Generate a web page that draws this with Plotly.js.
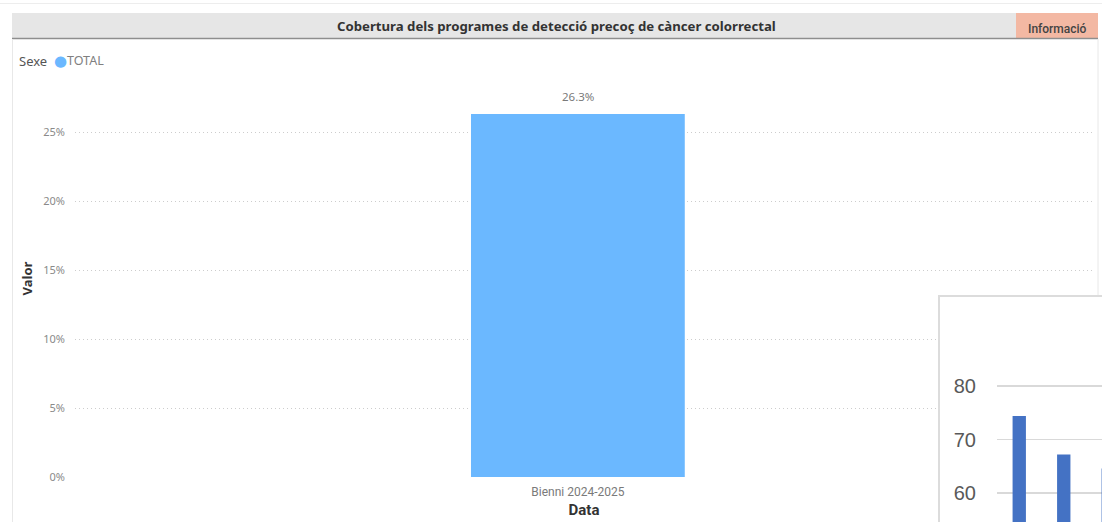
<!DOCTYPE html>
<html>
<head>
<meta charset="utf-8">
<script src="https://cdn.plot.ly/plotly-3.0.1.min.js"></script>
<style>
  html, body { margin: 0; padding: 0; width: 1102px; height: 522px; overflow: hidden; background: #fff; }
  #main { position: absolute; left: 0; top: 0; width: 1102px; height: 522px; }
  #inset { position: absolute; left: 938px; top: 295px; width: 300px; height: 227px;
           border-left: 2px solid #dcdcdc; border-top: 2px solid #dcdcdc; background: #fff; overflow: hidden; }
  #insetPlot { position: absolute; left: 0; top: 0; width: 300px; height: 225px; }
</style>
</head>
<body>
<div id="main"></div>
<div id="inset"><div id="insetPlot"></div></div>
<script>
// ---- data ----
const chartTitle = "Cobertura dels programes de detecció precoç de càncer colorrectal";
const infoLabel = "Informació";
const legendTitle = "Sexe";
const seriesName = "TOTAL";
const categories = ["Bienni 2024-2025"];
const values = [0.263];
const yTickVals = [0, 0.05, 0.10, 0.15, 0.20, 0.25];
const yTickText = ["0%", "5%", "10%", "15%", "20%", "25%"];
const xTitle = "Data";
const yTitle = "Valor";

// overlapping inset chart (partly visible)
const insetCategories = ["c1", "c2", "c3"];
const insetValues = [74.4, 67.2, 64.6];
const insetTickVals = [60, 70, 80];

// ---- helpers ----
const W = 1102, H = 522;
const px = x => x / W;
const py = y => (H - y) / H;
const barColor = "#6bb8ff";

const main = [{
  type: "bar",
  x: categories,
  y: values,
  name: seriesName,
  marker: { color: barColor },
  width: 0.21,
  hoverinfo: "skip"
}];

const labelAnnotations = categories.map((c, i) => ({
  x: c, y: values[i], xref: "x", yref: "y",
  text: (values[i] * 100).toFixed(1) + "%",
  showarrow: false, yanchor: "bottom", yshift: 8,
  font: { family: "Noto Sans, Open Sans, sans-serif", size: 11.5, color: "#7a7a7a" }
}));

const layout = {
  width: W, height: H,
  margin: { l: 0, r: 0, t: 0, b: 0 },
  paper_bgcolor: "#fff",
  plot_bgcolor: "rgba(0,0,0,0)",
  showlegend: false,
  xaxis: {
    domain: [px(75), px(1093)],
    range: [-0.494, 0.506],
    showgrid: false, zeroline: false, showline: false,
    ticks: "", ticklabelstandoff: 6,
    tickfont: { family: "Roboto, sans-serif", size: 12, color: "#7a7a7a" },
    title: { text: xTitle, standoff: 6, font: { family: "Roboto, sans-serif", size: 15, color: "#333", weight: "bold" } }
  },
  yaxis: {
    domain: [py(477), py(80)],
    range: [0, (477 - 80) / 1380],
    tickvals: yTickVals, ticktext: yTickText,
    showgrid: true, gridcolor: "#cdcdcd", griddash: "1px,3px", gridwidth: 1,
    zeroline: false, showline: false, ticks: "",
    ticklabelstandoff: 9,
    tickfont: { family: "Noto Sans, Open Sans, sans-serif", size: 11, color: "#8a8a8a" },
    title: { text: yTitle, standoff: 7, font: { family: "Noto Sans, Open Sans, sans-serif", size: 13, color: "#333", weight: "bold" } }
  },
  shapes: [
    { type: "line", xref: "paper", yref: "paper", x0: 0, x1: 1, y0: py(3.5), y1: py(3.5), line: { color: "#ededed", width: 1 }, layer: "below" },
    { type: "rect", xref: "paper", yref: "paper", x0: px(12), x1: px(1098), y0: py(38), y1: py(13), fillcolor: "#e6e6e6", line: { width: 0 }, layer: "below" },
    { type: "rect", xref: "paper", yref: "paper", x0: px(1016), x1: px(1098), y0: py(38), y1: py(13), fillcolor: "#f3b8a3", line: { width: 0 }, layer: "below" },
    { type: "line", xref: "paper", yref: "paper", x0: px(12), x1: px(1098), y0: py(38.5), y1: py(38.5), line: { color: "#8e8e8e", width: 1.5 }, layer: "below" },
    { type: "line", xref: "paper", yref: "paper", x0: px(12.5), x1: px(12.5), y0: py(39), y1: 0, line: { color: "#e8e8e8", width: 1 }, layer: "below" },
    { type: "line", xref: "paper", yref: "paper", x0: px(1098), x1: px(1098), y0: py(39), y1: 0, line: { color: "#e8e8e8", width: 1 }, layer: "below" }
  ],
  annotations: [
    { xref: "paper", yref: "paper", x: px(556), y: py(26), text: "<b>" + chartTitle + "</b>", showarrow: false,
      xanchor: "center", yanchor: "middle", font: { family: "Noto Sans, Open Sans, sans-serif", size: 13.2, color: "#333" } },
    { xref: "paper", yref: "paper", x: px(1057), y: py(29), text: infoLabel, showarrow: false,
      xanchor: "center", yanchor: "middle", font: { family: "Roboto, sans-serif", size: 12, color: "#444", weight: 500 } },
    { xref: "paper", yref: "paper", x: px(17), y: py(61), xanchor: "left", yanchor: "middle", showarrow: false,
      text: legendTitle, font: { family: "Noto Sans, Open Sans, sans-serif", size: 13, color: "#555" } },
    { xref: "paper", yref: "paper", x: px(52), y: py(61), xanchor: "left", yanchor: "middle", showarrow: false,
      text: '<span style="color:' + barColor + '">●</span>', font: { family: "DejaVu Sans, sans-serif", size: 15, color: barColor } },
    { xref: "paper", yref: "paper", x: px(65), y: py(61), xanchor: "left", yanchor: "middle", showarrow: false,
      text: seriesName, font: { family: "Noto Sans, Open Sans, sans-serif", size: 12.5, color: "#808080" } }
  ].concat(labelAnnotations)
};

Plotly.newPlot("main", main, layout, { staticPlot: true, displayModeBar: false });

// ---- inset chart ----
const inset = [{
  type: "bar",
  x: insetCategories,
  y: insetValues,
  marker: { color: "#4472c4" },
  width: 0.3,
  hoverinfo: "skip"
}];
const insetH = 225;
const insetLayout = {
  width: 300, height: insetH,
  margin: { l: 57, r: 0, t: 0, b: 0 },
  paper_bgcolor: "#fff", plot_bgcolor: "#fff",
  showlegend: false,
  xaxis: { range: [-0.5, (300 - 57) / 44.5 - 0.5], showticklabels: false, showgrid: false, zeroline: false, ticks: "" },
  yaxis: {
    range: [80 - (insetH - 89) / 5.35, 80 + 89 / 5.35],
    tickvals: insetTickVals,
    showgrid: true, gridcolor: "#d9d9d9", gridwidth: 1.5,
    zeroline: false, showline: false, ticks: "",
    ticklabelstandoff: 20,
    tickfont: { family: "Liberation Sans, Arial, sans-serif", size: 20, color: "#595959" }
  }
};
Plotly.newPlot("insetPlot", inset, insetLayout, { staticPlot: true, displayModeBar: false });
</script>
</body>
</html>
